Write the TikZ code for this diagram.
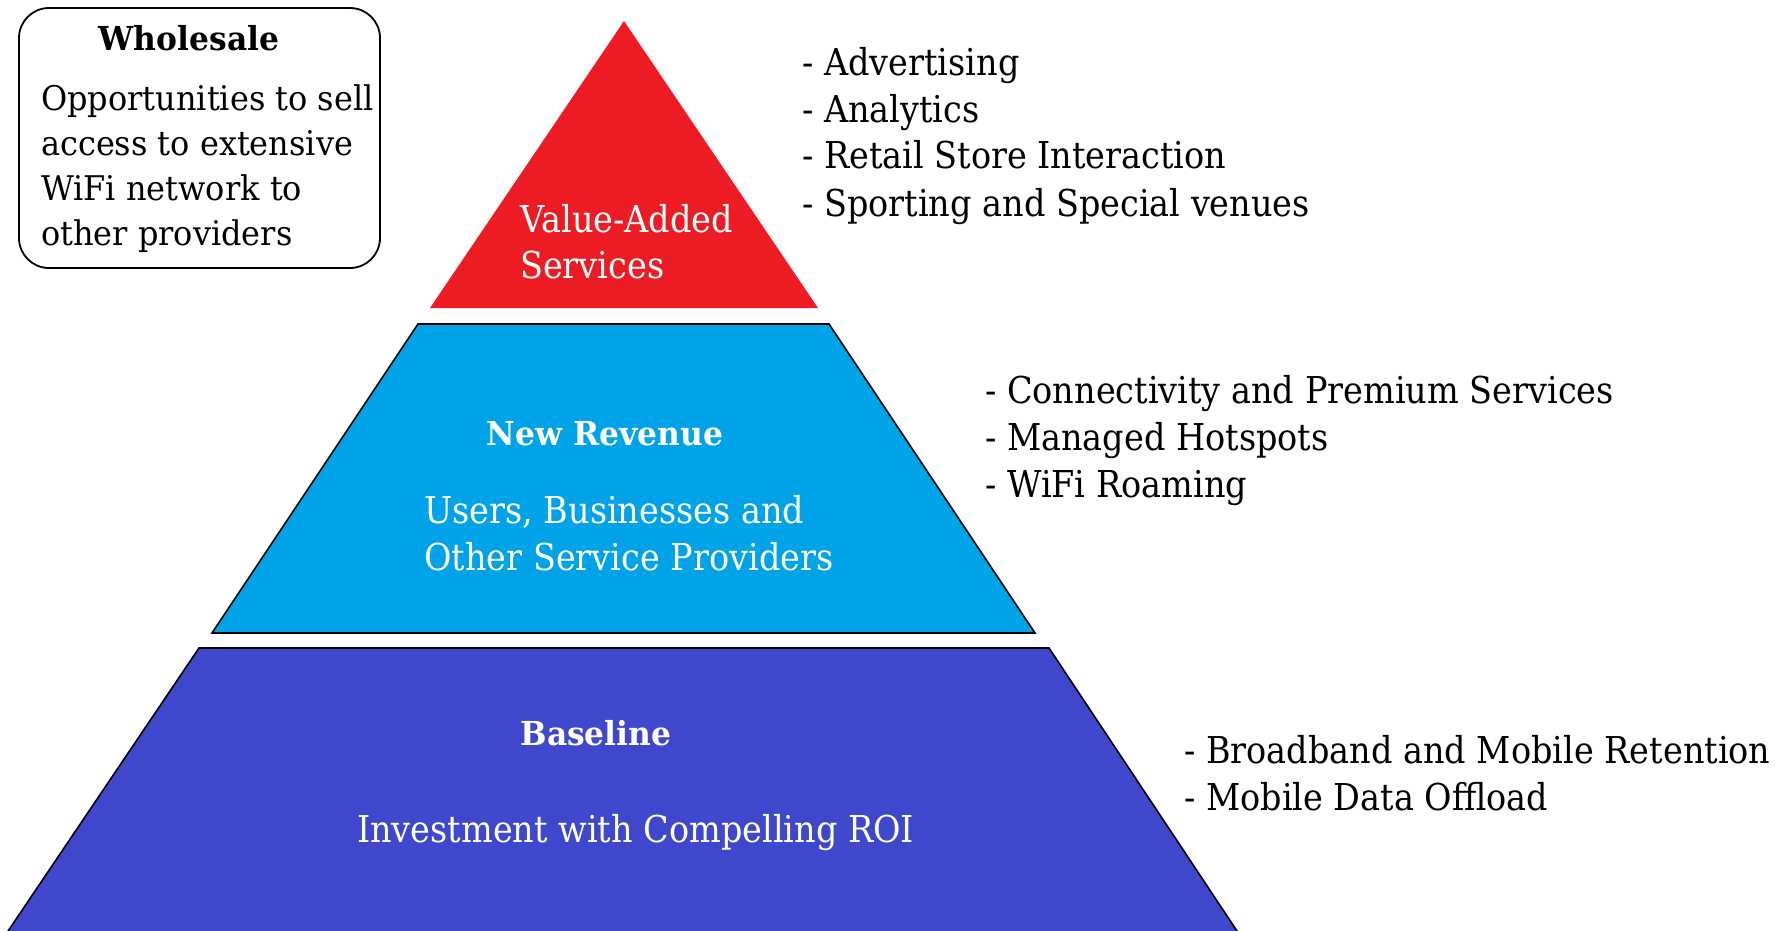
\documentclass[tikz,border=0pt]{standalone}
\usepackage{fontspec}
\setmainfont{DejaVu Serif}
\newfontfamily\slab[FakeStretch=0.905]{DejaVu Serif}
\newfontfamily\slabbox[FakeStretch=0.94]{DejaVu Serif}
\newfontfamily\slabbold[FakeStretch=0.95]{DejaVu Serif Bold}
\definecolor{tierred}{HTML}{ED1C24}
\definecolor{tiercyan}{HTML}{00A2E8}
\definecolor{tierblue}{HTML}{3F48CC}
\tikzset{
  listline/.style={anchor=base west, inner sep=0pt, font=\slab\fontsize{37}{47}\selectfont, text=black},
  boxline/.style={anchor=base west, inner sep=0pt, font=\slabbox\fontsize{34}{45}\selectfont, text=black},
  tierline/.style={anchor=base west, inner sep=0pt, font=\slab\fontsize{37}{47}\selectfont, text=white},
  tierhead/.style={anchor=base, inner sep=0pt, font=\slabbold\fontsize{33}{40}\selectfont, text=white},
  boxhead/.style={anchor=base, inner sep=0pt, font=\slabbold\fontsize{33}{40}\selectfont, text=black},
}
\begin{document}
\begin{tikzpicture}[x=1pt,y=-1pt]
\useasboundingbox (0,0) rectangle (1789,930);

% pyramid tiers
\begin{scope}
  \clip (0,0) rectangle (1789,930);
  \fill[tierred] (624,21) -- (818,308) -- (430,308) -- cycle;
  \filldraw[fill=tiercyan, draw=black, line width=1.6pt]
    (418,324) -- (829,324) -- (1035,633) -- (212,633) -- cycle;
  \filldraw[fill=tierblue, draw=black, line width=1.6pt]
    (199,648) -- (1049,648) -- (1243,940) -- (2,940) -- cycle;
\end{scope}

% wholesale box
\node[draw=black, line width=1.8pt, rounded corners=30pt, minimum width=361pt,
      minimum height=260pt, inner sep=0pt] (wholesale) at (199.5,138) {};
\node[boxhead] (wshead) at (189,50) {Wholesale};
\node[boxline] (ws1) at (41,110) {Opportunities to sell};
\node[boxline] (ws2) at (41,155) {access to extensive};
\node[boxline] (ws3) at (41,200) {WiFi network to};
\node[boxline] (ws4) at (41,245) {other providers};

% tier labels
\node[tierline] (va1) at (520,232) {Value-Added};
\node[tierline] (va2) at (520,278) {Services};
\node[tierhead] (nrhead) at (605,445) {New Revenue};
\node[tierline] (nr1) at (424,523) {Users, Businesses and};
\node[tierline] (nr2) at (424,570) {Other Service Providers};
\node[tierhead] (blhead) at (596,745) {Baseline};
\node[tierline] (bl1) at (357,842) {Investment with Compelling ROI};

% value-added list
\node[listline] (a1) at (802,75) {- Advertising};
\node[listline] (a2) at (802,122) {- Analytics};
\node[listline] (a3) at (802,168) {- Retail Store Interaction};
\node[listline] (a4) at (802,216) {- Sporting and Special venues};

% new revenue list
\node[listline] (b1) at (985,403) {- Connectivity and Premium Services};
\node[listline] (b2) at (985,450) {- Managed Hotspots};
\node[listline] (b3) at (985,497) {- WiFi Roaming};

% baseline list
\node[listline] (c1) at (1184,763) {- Broadband and Mobile Retention};
\node[listline] (c2) at (1184,810) {- Mobile Data Offload};
\end{tikzpicture}
\end{document}
